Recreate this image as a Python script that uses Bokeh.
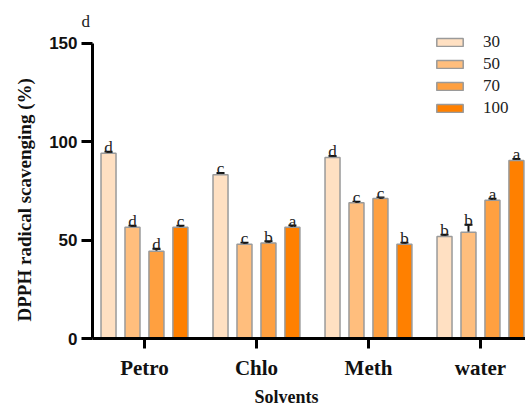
import numpy as np
from bokeh.plotting import figure
from bokeh.models import (ColumnDataSource, Whisker, TeeHead, Title, Legend,
                          LegendItem, FixedTicker, Range1d)
from bokeh.transform import dodge
from bokeh.embed import file_html
from bokeh.resources import INLINE
from bokeh.core.properties import value

solvents = ["Petro", "Chlo", "Meth", "water"]
concentrations = ["30", "50", "70", "100"]
means_30 = [94.2, 83.2, 92.0, 51.9]
means_50 = [56.6, 47.9, 69.0, 54.0]
means_70 = [44.4, 48.6, 71.2, 70.3]
means_100 = [56.6, 56.6, 47.9, 90.5]
err_30 = [0.8, 1.0, 0.8, 0.8]
err_50 = [0.7, 0.8, 0.5, 3.8]
err_70 = [1.2, 0.8, 0.5, 0.7]
err_100 = [0.7, 0.8, 0.8, 0.8]
letters_30 = ["d", "c", "d", "b"]
letters_50 = ["d", "c", "c", "b"]
letters_70 = ["d", "b", "c", "a"]
letters_100 = ["c", "a", "b", "a"]
y_ticks = [0, 50, 100, 150]

series = [
    ("30", means_30, err_30, letters_30),
    ("50", means_50, err_50, letters_50),
    ("70", means_70, err_70, letters_70),
    ("100", means_100, err_100, letters_100),
]
colors = ["#FFE0C2", "#FFBE7D", "#FFA040", "#FF8000"]
offsets = [-0.321, -0.107, 0.107, 0.321]
bar_w = 0.134

SERIF = "Liberation Serif"
SANS = "Liberation Sans"

p = figure(width=525, height=405, x_range=Range1d(-0.464, 3.402),
           y_range=Range1d(0, 157.6), output_backend="svg", toolbar_location=None,
           min_border_left=92, min_border_right=0, min_border_top=28,
           min_border_bottom=67)
p.outline_line_color = None
p.xgrid.grid_line_color = None
p.ygrid.grid_line_color = None
p.background_fill_color = None
p.border_fill_color = "white"

xs = np.arange(len(solvents))
items = []
for (name, m, e, lt), col, off in zip(series, colors, offsets):
    top = [a + b for a, b in zip(m, e)]
    src = ColumnDataSource(dict(x=xs, y=m, up=top, lab=lt))
    r = p.vbar(x=dodge("x", off), top="y", bottom=0, width=bar_w, source=src,
               fill_color=col, line_color="#9A9A9A", line_width=1.5)
    w = Whisker(base=dodge("x", off), lower="y", upper="up", source=src,
                dimension="height", line_color="#111111", line_width=2,
                upper_head=TeeHead(size=8, line_color="#111111", line_width=2),
                lower_head=None)
    p.add_layout(w)
    p.text(x=dodge("x", off), y="up", text="lab", source=src,
           text_font=value(SERIF), text_font_size="17px", text_align="center",
           text_baseline="alphabetic", y_offset=-4, text_color="#222222")
    items.append(LegendItem(label=name, renderers=[r]))

legend = Legend(items=items, location=(341, 220), glyph_width=33, glyph_height=10,
                label_standoff=17, spacing=2, label_height=20, padding=0, margin=0,
                border_line_color=None, background_fill_alpha=0,
                label_text_font=SERIF, label_text_font_size="17px",
                label_text_color="#222222")
p.add_layout(legend)

# axes
p.xaxis.ticker = FixedTicker(ticks=list(xs))
p.xaxis.major_label_overrides = {int(i): s for i, s in zip(xs, solvents)}
p.yaxis.ticker = FixedTicker(ticks=y_ticks)
p.yaxis.bounds = (y_ticks[0], y_ticks[-1])
for ax in (p.xaxis, p.yaxis):
    ax.axis_line_width = 3
    ax.axis_line_color = "black"
    ax.major_tick_line_width = 3
    ax.major_tick_line_color = "black"
    ax.major_tick_in = 0
    ax.minor_tick_line_color = None
p.xaxis.major_tick_out = 10
p.yaxis.major_tick_out = 11
p.xaxis.major_label_text_font = SERIF
p.xaxis.major_label_text_font_style = "bold"
p.xaxis.major_label_text_font_size = "21px"
p.xaxis.major_label_text_line_height = 1.0
p.xaxis.major_label_standoff = 7
p.xaxis.major_label_text_color = "#111111"
# invisible spacer label to push the "Solvents" title down
p.xaxis.axis_label = " "
p.xaxis.axis_label_text_font_size = "1px"
p.xaxis.axis_label_standoff = 8
p.yaxis.major_label_text_font = SANS
p.yaxis.major_label_text_font_style = "bold"
p.yaxis.major_label_text_font_size = "17px"
p.yaxis.major_label_standoff = 4
p.yaxis.major_label_text_color = "#111111"

# stray letter above the axis (figure title slot)
p.title.text = "d"
p.title.align = "left"
p.title.offset = -11
p.title.standoff = -5
p.title.text_font = SERIF
p.title.text_font_style = "normal"
p.title.text_font_size = "17px"
p.title.text_color = "#222222"

p.add_layout(Title(text="DPPH radical scavenging (%)", align="left", offset=17,
                   standoff=23, text_font=SERIF, text_font_style="bold",
                   text_font_size="19px", text_color="#111111"), "left")
p.add_layout(Title(text="Solvents", align="left", offset=162, standoff=-20,
                   vertical_align="bottom", text_line_height=1.0,
                   text_font=SERIF, text_font_style="bold",
                   text_font_size="18px", text_color="#111111"), "below")

open("out.html", "w").write(file_html(p, INLINE))
